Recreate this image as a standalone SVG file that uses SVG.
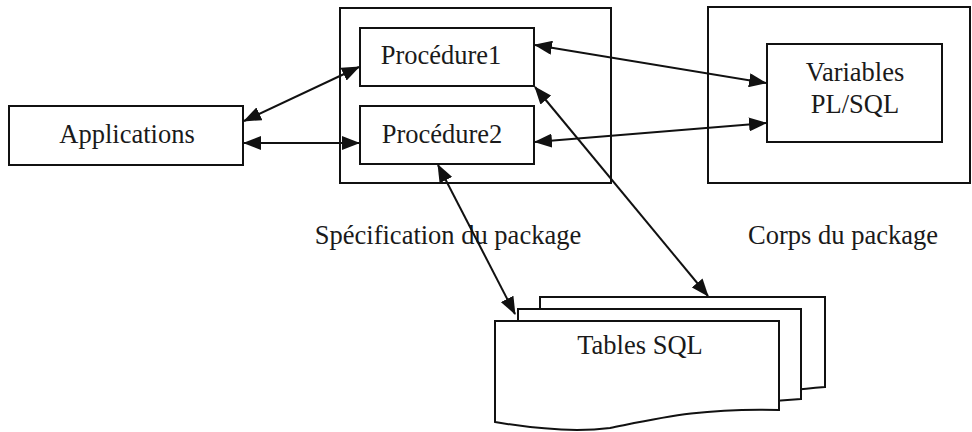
<svg xmlns="http://www.w3.org/2000/svg" width="972" height="432" viewBox="0 0 972 432">
  <style>
    .box { fill: #ffffff; stroke: #111111; stroke-width: 2; }
    .lbl { font-family: "Liberation Serif", "Times New Roman", serif; font-size: 26.5px; fill: #1a1a1a; text-anchor: middle; }
    .conn { stroke: #111111; stroke-width: 2; fill: none; marker-start: url(#head); marker-end: url(#head); }
  </style>
  <defs>
    <marker id="head" viewBox="0 0 18 14" refX="17" refY="7" markerWidth="18" markerHeight="14" markerUnits="userSpaceOnUse" orient="auto-start-reverse">
      <path d="M0,0 L18,7 L0,14 Z" fill="#111111"/>
    </marker>
  </defs>
  <rect width="972" height="432" fill="#ffffff"/>

  <!-- package specification container -->
  <g id="specification">
    <rect class="box" x="340" y="8" width="271" height="175"/>
    <text class="lbl" x="448" y="244">Spécification du package</text>
  </g>

  <!-- package body container -->
  <g id="corps">
    <rect class="box" x="708" y="7" width="262" height="176"/>
    <text class="lbl" x="843" y="244">Corps du package</text>
  </g>

  <g id="procedure1">
    <rect class="box" x="360" y="28" width="174" height="58"/>
    <text class="lbl" x="441" y="64">Procédure1</text>
  </g>

  <g id="procedure2">
    <rect class="box" x="360" y="106" width="174" height="58"/>
    <text class="lbl" x="442" y="143">Procédure2</text>
  </g>

  <g id="applications">
    <rect class="box" x="9" y="106" width="234" height="59"/>
    <text class="lbl" x="127" y="143">Applications</text>
  </g>

  <g id="variables">
    <rect class="box" x="767" y="44" width="175" height="98"/>
    <text class="lbl" x="855" y="81">Variables</text>
    <text class="lbl" x="855" y="113">PL/SQL</text>
  </g>

  <!-- stacked document sheets -->
  <g id="tables">
    <path class="box" d="M540,297 H825 V387 C790,390 760,393 740,398 L540,398 Z"/>
    <path class="box" d="M518,309 H801 V399 C770,401 745,404 720,410 L518,410 Z"/>
    <path class="box" d="M495,321 H779 V410 C700,408 660,418 610,428 C570,433 530,428 495,422 Z"/>
    <text class="lbl" x="640" y="354">Tables SQL</text>
  </g>

  <g id="connectors">
    <line class="conn" x1="244" y1="121" x2="359" y2="67"/>
    <line class="conn" x1="244" y1="143" x2="359" y2="143"/>
    <line class="conn" x1="535" y1="45" x2="766" y2="83"/>
    <line class="conn" x1="535" y1="142" x2="766" y2="123"/>
    <line class="conn" x1="535" y1="87" x2="708" y2="296"/>
    <line class="conn" x1="438" y1="165" x2="515" y2="314"/>
  </g>
</svg>
